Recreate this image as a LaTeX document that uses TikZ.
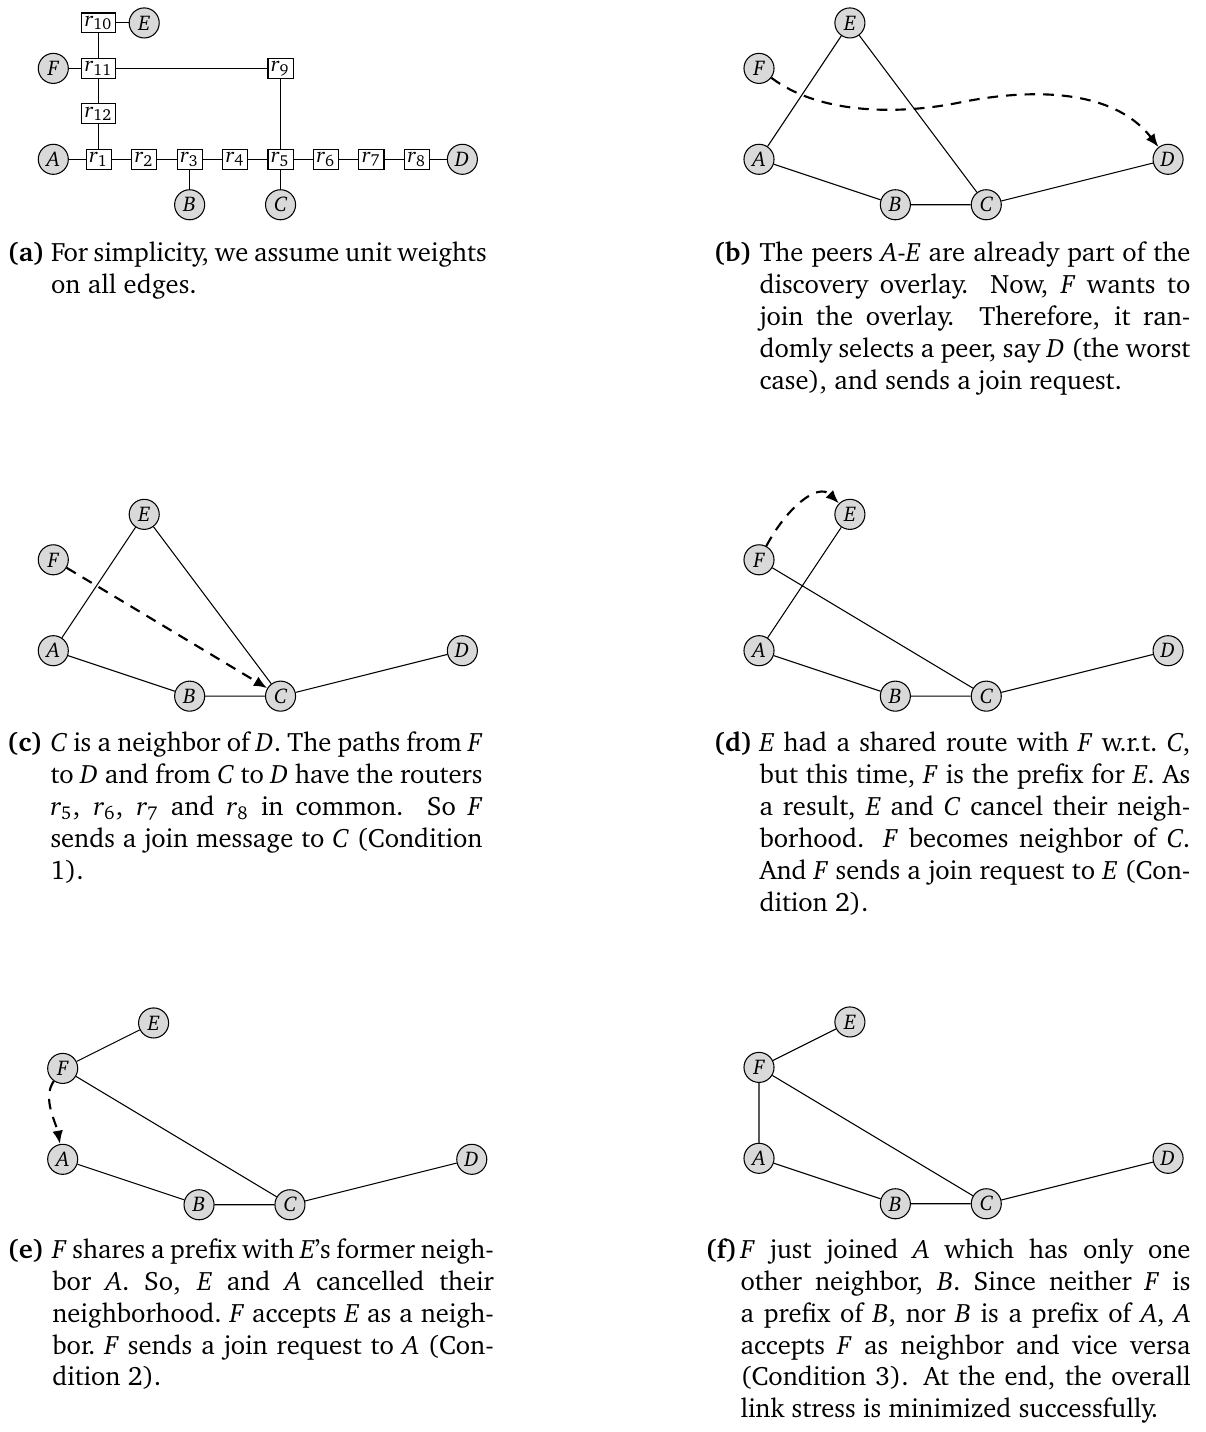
\documentclass[tikz,border=0pt]{standalone}
\usepackage[T1]{fontenc}
\usepackage{charter}
\usepackage{amsmath}
\usetikzlibrary{arrows.meta}

% router label r_i and justified caption lines
\newcommand\rr[1]{\textit{r}$_{\text{#1}}$}
\newlength\capw
\newcommand\jl[1]{\makebox[\capw][s]{#1}}
\newcommand\captionbody[2]{\setlength\capw{#1}\parbox[t]{\dimexpr#1+30pt\relax}{#2}}

\tikzset{
  peer/.style={circle, draw, fill=gray!30, minimum size=11.3pt, inner sep=0pt,
               font=\footnotesize\itshape, line width=0.4pt},
  router/.style={rectangle, draw, fill=white, minimum height=7.5pt, inner xsep=1.2pt,
                 inner ysep=0pt, font=\footnotesize, line width=0.4pt},
  edgeline/.style={line width=0.4pt},
  joinreq/.style={line width=0.8pt, dash pattern=on 4pt off 3pt,
                  -{Latex[length=5pt,width=4pt]}},
  caplabel/.style={anchor=base west, inner sep=0pt, font=\bfseries},
  captext/.style={anchor=base west, inner sep=0pt},
}

\begin{document}
\begin{tikzpicture}[x=0.376pt, y=-0.376pt]
\useasboundingbox (0,0) rectangle (1205,1432);

% ---------- (a) physical network ----------
\begin{scope}[shift={(53.3,159.3)}, x=17.09pt, y=17.09pt]
  \node[peer] (aA) at (0,0) {A};
  \node[router] (ar1) at (1,0) {\rr{1}};
  \node[router] (ar2) at (2,0) {\rr{2}};
  \node[router] (ar3) at (3,0) {\rr{3}};
  \node[router] (ar4) at (4,0) {\rr{4}};
  \node[router] (ar5) at (5,0) {\rr{5}};
  \node[router] (ar6) at (6,0) {\rr{6}};
  \node[router] (ar7) at (7,0) {\rr{7}};
  \node[router] (ar8) at (8,0) {\rr{8}};
  \node[peer] (aD) at (9,0) {D};
  \node[peer] (aB) at (3,-1) {B};
  \node[peer] (aC) at (5,-1) {C};
  \node[router] (ar12) at (1,1) {\rr{12}};
  \node[router] (ar11) at (1,2) {\rr{11}};
  \node[peer] (aF) at (0,2) {F};
  \node[router] (ar9) at (5,2) {\rr{9}};
  \node[router] (ar10) at (1,3) {\rr{10}};
  \node[peer] (aE) at (2,3) {E};
  \draw[edgeline] (aA) -- (ar1) (ar1) -- (ar2) (ar2) -- (ar3) (ar3) -- (ar4)
    (ar4) -- (ar5) (ar5) -- (ar6) (ar6) -- (ar7) (ar7) -- (ar8) (ar8) -- (aD)
    (ar3) -- (aB) (ar5) -- (aC) (ar1) -- (ar12) (ar12) -- (ar11)
    (ar11) -- (ar10) (ar10) -- (aE) (aF) -- (ar11) (ar11) -- (ar9) (ar9) -- (ar5);
\end{scope}

% ---------- (b) F picks D ----------
\begin{scope}[shift={(759,159.3)}, x=17.09pt, y=17.09pt]
  \node[peer] (bA) at (0,0) {A};
  \node[peer] (bB) at (3,-1) {B};
  \node[peer] (bC) at (5,-1) {C};
  \node[peer] (bD) at (9,0) {D};
  \node[peer] (bE) at (2,3) {E};
  \node[peer] (bF) at (0,2) {F};
  \draw[edgeline] (bA) -- (bE) (bE) -- (bC) (bA) -- (bB) (bB) -- (bC) (bC) -- (bD);
  \coordinate (bmid) at (4.42,1.25);
  \draw[joinreq] (bF) .. controls (1.34,0.98) and (3.10,0.98) .. (bmid)
                      .. controls (5.74,1.52) and (7.72,1.64) .. (bD);
\end{scope}

% ---------- (c) F joins C ----------
\begin{scope}[shift={(53.3,650.7)}, x=17.09pt, y=17.09pt]
  \node[peer] (cA) at (0,0) {A};
  \node[peer] (cB) at (3,-1) {B};
  \node[peer] (cC) at (5,-1) {C};
  \node[peer] (cD) at (9,0) {D};
  \node[peer] (cE) at (2,3) {E};
  \node[peer] (cF) at (0,2) {F};
  \draw[edgeline] (cA) -- (cE) (cE) -- (cC) (cA) -- (cB) (cB) -- (cC) (cC) -- (cD);
  \draw[joinreq] (cF) -- (cC);
\end{scope}

% ---------- (d) F joins E ----------
\begin{scope}[shift={(759,650.7)}, x=17.09pt, y=17.09pt]
  \node[peer] (dA) at (0,0) {A};
  \node[peer] (dB) at (3,-1) {B};
  \node[peer] (dC) at (5,-1) {C};
  \node[peer] (dD) at (9,0) {D};
  \node[peer] (dE) at (2,3) {E};
  \node[peer] (dF) at (0,2) {F};
  \draw[edgeline] (dA) -- (dE) (dF) -- (dC) (dA) -- (dB) (dB) -- (dC) (dC) -- (dD);
  \draw[joinreq] (dF) .. controls +(62:1.3) and +(135:1) .. (dE);
\end{scope}

% ---------- (e) F joins A ----------
\begin{scope}[shift={(62.7,1159.3)}, x=17.09pt, y=17.09pt]
  \node[peer] (eA) at (0,0) {A};
  \node[peer] (eB) at (3,-1) {B};
  \node[peer] (eC) at (5,-1) {C};
  \node[peer] (eD) at (9,0) {D};
  \node[peer] (eE) at (2,3) {E};
  \node[peer] (eF) at (0,2) {F};
  \draw[edgeline] (eF) -- (eE) (eF) -- (eC) (eA) -- (eB) (eB) -- (eC) (eC) -- (eD);
  \draw[joinreq] (eF) to[out=-125, in=100, looseness=0.85] (eA);
\end{scope}

% ---------- (f) final overlay ----------
\begin{scope}[shift={(759,1158.3)}, x=17.09pt, y=17.09pt]
  \node[peer] (fA) at (0,0) {A};
  \node[peer] (fB) at (3,-1) {B};
  \node[peer] (fC) at (5,-1) {C};
  \node[peer] (fD) at (9,0) {D};
  \node[peer] (fE) at (2,3) {E};
  \node[peer] (fF) at (0,2) {F};
  \draw[edgeline] (fF) -- (fE) (fF) -- (fA) (fF) -- (fC) (fA) -- (fB) (fB) -- (fC) (fC) -- (fD);
\end{scope}

% ---------- captions ----------
\node[caplabel] (la) at (7,261.7) {(a)};
\node[captext] (ta) at (50.5,261.7) {\captionbody{161.5pt}{%
\jl{For simplicity, we assume unit weights}\\
on all edges.}};

\node[caplabel] (lb) at (713.3,261.7) {(b)};
\node[captext] (tb) at (759,261.7) {\captionbody{162pt}{%
\jl{The peers \textit{A}-\textit{E} are already part of the}\\
\jl{discovery overlay. Now, \textit{F} wants to}\\
\jl{join the overlay. Therefore, it ran-}\\
\jl{domly selects a peer, say \textit{D} (the worst}\\
case), and sends a join request.}};

\node[caplabel] (lc) at (6.7,751.7) {(c)};
\node[captext] (tc) at (50,751.7) {\captionbody{162.4pt}{%
\jl{\textit{C} is a neighbor of \textit{D}. The paths from \textit{F}}\\
\jl{to \textit{D} and from \textit{C} to \textit{D} have the routers}\\
\jl{\rr{5}, \rr{6}, \rr{7} and \rr{8} in common. So \textit{F}}\\
\jl{sends a join message to \textit{C} (Condition}\\
1).}};

\node[caplabel] (ld) at (713.3,751.7) {(d)};
\node[captext] (td) at (759,751.7) {\captionbody{162pt}{%
\jl{\textit{E} had a shared route with \textit{F} w.r.t.\ \textit{C},}\\
\jl{but this time, \textit{F} is the prefix for \textit{E}. As}\\
\jl{a result, \textit{E} and \textit{C} cancel their neigh-}\\
\jl{borhood. \textit{F} becomes neighbor of \textit{C}.}\\
\jl{And \textit{F} sends a join request to \textit{E} (Con-}\\
dition 2).}};

\node[caplabel] (le) at (7,1258.3) {(e)};
\node[captext] (te) at (51.8,1258.3) {\captionbody{166pt}{%
\jl{\textit{F} shares a prefix with \textit{E}'s former neigh-}\\
\jl{bor \textit{A}. So, \textit{E} and \textit{A} cancelled their}\\
\jl{neighborhood.\ \textit{F} accepts \textit{E} as a neigh-}\\
\jl{bor.\ \textit{F} sends a join request to \textit{A} (Con-}\\
dition 2).}};

\node[caplabel] (lf) at (705,1258.3) {(f)};
\node[captext] (tf) at (740,1258.3) {\captionbody{169.2pt}{%
\jl{\textit{F} just joined \textit{A} which has only one}\\
\jl{other neighbor, \textit{B}. Since neither \textit{F} is}\\
\jl{a prefix of \textit{B}, nor \textit{B} is a prefix of \textit{A}, \textit{A}}\\
\jl{accepts \textit{F} as neighbor and vice versa}\\
\jl{(Condition 3). At the end, the overall}\\
link stress is minimized successfully.}};
\end{tikzpicture}
\end{document}
